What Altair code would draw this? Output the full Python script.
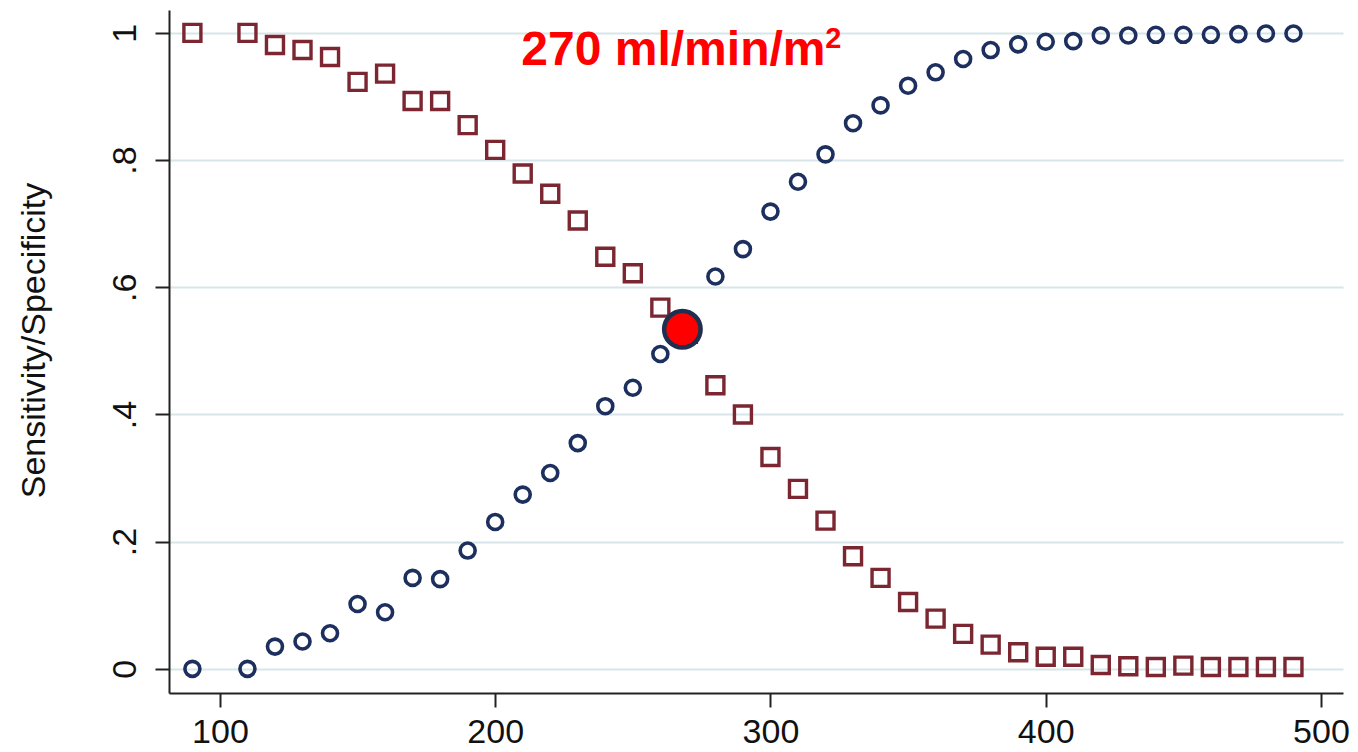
import altair as alt
import pandas as pd

# Sensitivity (circles)
x_sens = [90, 110, 120, 130, 140, 150, 160, 170, 180, 190, 200, 210, 220, 230, 240, 250, 260,
          280, 290, 300, 310, 320, 330, 340, 350, 360, 370, 380, 390, 400, 410, 420, 430, 440,
          450, 460, 470, 480, 490]
sens = [0.0, 0.0, 0.035, 0.043, 0.056, 0.102, 0.089, 0.143, 0.141, 0.186, 0.231, 0.274, 0.308,
        0.355, 0.413, 0.442, 0.495, 0.617, 0.660, 0.719, 0.766, 0.809, 0.858, 0.886, 0.917,
        0.938, 0.959, 0.973, 0.982, 0.986, 0.987, 0.996, 0.996, 0.997, 0.997, 0.997, 0.998,
        0.999, 0.999]

# Specificity (squares)
x_spec = [90, 110, 120, 130, 140, 150, 160, 170, 180, 190, 200, 210, 220, 230, 240, 250, 260,
          270, 280, 290, 300, 310, 320, 330, 340, 350, 360, 370, 380, 390, 400, 410, 420, 430,
          440, 450, 460, 470, 480, 490]
spec = [1.0, 1.0, 0.981, 0.973, 0.962, 0.923, 0.936, 0.893, 0.893, 0.855, 0.816, 0.779, 0.747,
        0.705, 0.648, 0.622, 0.568, 0.527, 0.446, 0.400, 0.333, 0.283, 0.233, 0.177, 0.143,
        0.105, 0.079, 0.055, 0.038, 0.026, 0.019, 0.019, 0.006, 0.004, 0.003, 0.005, 0.003,
        0.003, 0.003, 0.003]

# Optimal cut-off marker and its label
cut_x = [268]
cut_y = [0.534]
label_x = [209.5]
label_y = [0.95]
label_text = ["270 ml/min/m"]
label_sup = ["2"]

x_ticks = [100, 200, 300, 400, 500]
y_ticks = [0, 0.2, 0.4, 0.6, 0.8, 1.0]

df_sens = pd.DataFrame({"x": x_sens, "y": sens})
df_spec = pd.DataFrame({"x": x_spec, "y": spec})
df_cut = pd.DataFrame({"x": cut_x, "y": cut_y})
df_lab = pd.DataFrame({"x": label_x, "y": label_y, "t": label_text, "s": label_sup})

FONT = "Liberation Sans"

xscale = alt.Scale(domain=[81.5, 508], nice=False, zero=False)
yscale = alt.Scale(domain=[-0.038, 1.036], nice=False, zero=False)

xaxis = alt.Axis(values=x_ticks, grid=False, title=None, labelFont=FONT, labelFontSize=34,
                 labelColor="#111111", tickSize=14, tickWidth=2, tickColor="#222222",
                 labelPadding=8, domainWidth=2, domainColor="#222222", labelFlush=False)
yaxis = alt.Axis(values=y_ticks, grid=True, gridColor="#d8e5ea", gridWidth=2,
                 title="Sensitivity/Specificity", titleFont=FONT, titleFontSize=34,
                 titleFontWeight="normal", titleColor="#111111", titleAngle=270,
                 titleAlign="center", titleBaseline="middle", titleX=-135, titleY=330,
                 labelFont=FONT, labelFontSize=34, labelColor="#111111", labelAngle=270,
                 labelAlign="center", labelBaseline="alphabetic", labelPadding=20,
                 tickSize=14, tickWidth=2, tickColor="#222222", domainWidth=2,
                 domainColor="#222222", labelFlush=False,
                 labelExpr="datum.value == 0 ? '0' : datum.value == 1 ? '1' : substring(format(datum.value, '.1f'), 1)")

squares = alt.Chart(df_spec).mark_point(
    shape="square", filled=False, size=289, strokeWidth=3.4, color="#7b2631", opacity=1
).encode(x=alt.X("x:Q", scale=xscale, axis=xaxis), y=alt.Y("y:Q", scale=yscale, axis=yaxis))

circles = alt.Chart(df_sens).mark_point(
    shape="circle", filled=False, size=225, strokeWidth=3.6, color="#1c2f5e", opacity=1
).encode(x=alt.X("x:Q", scale=xscale), y=alt.Y("y:Q", scale=yscale))

dot = alt.Chart(df_cut).mark_point(
    shape="circle", filled=True, size=1330, fill="#ff0000", stroke="#1e2f4f",
    strokeWidth=4.5, opacity=1, fillOpacity=1
).encode(x=alt.X("x:Q", scale=xscale), y=alt.Y("y:Q", scale=yscale))

label = alt.Chart(df_lab).mark_text(
    font=FONT, fontSize=48, fontWeight="bold", color="#ff0000", align="left",
    baseline="alphabetic"
).encode(x=alt.X("x:Q", scale=xscale), y=alt.Y("y:Q", scale=yscale), text="t:N")

sup = alt.Chart(df_lab).mark_text(
    font=FONT, fontSize=29, fontWeight="bold", color="#ff0000", align="left",
    baseline="alphabetic", dx=304, dy=-17
).encode(x=alt.X("x:Q", scale=xscale), y=alt.Y("y:Q", scale=yscale), text="s:N")

chart = alt.layer(squares, circles, dot, label, sup).properties(
    width=1174, height=683,
    autosize=alt.AutoSizeParams(type="none"),
    padding={"left": 161, "top": 2, "right": 7, "bottom": 55},
    background="white",
).configure_view(stroke=None)

chart.save("out.html", embed_options={"renderer": "svg", "actions": False})
